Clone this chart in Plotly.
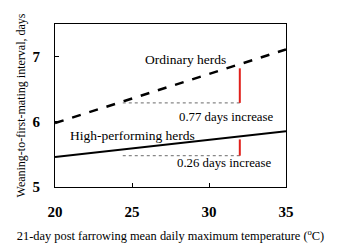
import plotly.graph_objects as go

# data
temps = [20, 35]
ordinary = [5.98, 7.11]
high_perf = [5.46, 5.855]
ref_x = [24.4, 32.0]
ord_base = 6.29
ord_top = 6.82
hp_base = 5.48
hp_top = 5.73
x_ticks = [20, 25, 30, 35]
y_ticks = [5, 6, 7]

fig = go.Figure()
fig.add_trace(go.Scatter(x=temps, y=ordinary, mode="lines",
                         line=dict(color="black", width=2.5, dash="dash")))
fig.add_trace(go.Scatter(x=temps, y=high_perf, mode="lines",
                         line=dict(color="black", width=2)))
for base, top in [(ord_base, ord_top), (hp_base, hp_top)]:
    fig.add_trace(go.Scatter(x=ref_x, y=[base, base], mode="lines",
                             line=dict(color="#888888", width=1.2, dash="dot")))
    fig.add_trace(go.Scatter(x=[ref_x[1], ref_x[1]], y=[base, top], mode="lines",
                             line=dict(color="#e0201b", width=2)))

anns = [
    ("Ordinary herds", 28.5, 6.95, 13.5),
    ("0.77 days increase", 31.1, 6.07, 12.8),
    ("High-performing herds", 25.0, 5.79, 13.5),
    ("0.26 days increase", 31.0, 5.37, 12.8),
]
for t, x, y, s in anns:
    fig.add_annotation(x=x, y=y, text=t, showarrow=False,
                       font=dict(family="Liberation Serif", size=s, color="black"),
                       xanchor="center", yanchor="middle")

tick_font = dict(family="Liberation Sans Narrow, Liberation Serif", size=15,
                 color="black", weight="bold")
fig.update_layout(
    width=358, height=245,
    margin=dict(l=44, r=80, t=16, b=61),
    paper_bgcolor="white", plot_bgcolor="white",
    showlegend=False,
    xaxis=dict(range=[20, 35], tickvals=x_ticks, ticks="inside", ticklen=4,
               tickcolor="black", showgrid=False, zeroline=False,
               showline=True, linecolor="black", linewidth=1.2, mirror=True,
               tickfont=tick_font, ticklabelstandoff=11,
               title=dict(text="21-day post farrowing mean daily maximum temperature (<sup>o</sup>C)",
                          font=dict(family="Liberation Serif", size=12.4, color="black"), standoff=12)),
    yaxis=dict(range=[5, 7.5], tickvals=y_ticks, ticks="inside", ticklen=4,
               tickcolor="black", showgrid=False, zeroline=False,
               showline=True, linecolor="black", linewidth=1.2, mirror=True,
               tickfont=tick_font, ticklabelstandoff=11,
               title=dict(text="Weaning-to-first-mating interval, days",
                          font=dict(family="Liberation Serif", size=12, color="black"), standoff=4)),
)
fig.write_html("out.html")
